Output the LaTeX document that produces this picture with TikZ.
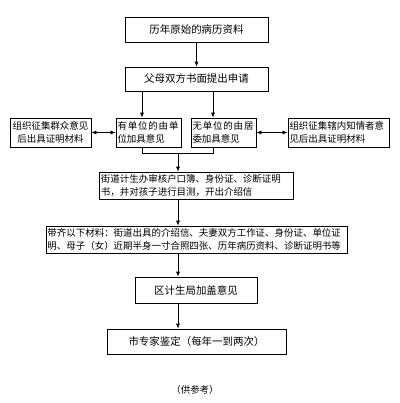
\documentclass[tikz,border=0pt]{standalone}
\usepackage{fontspec}
\setmainfont{Noto Sans CJK SC}
\usetikzlibrary{arrows.meta}

\begin{document}
\begin{tikzpicture}[x=1bp, y=-1bp,
  box/.style={draw, rectangle, line width=0.7pt, inner sep=1.5bp, font=\fontsize{10.5}{12.5}\selectfont},
  smallbox/.style={box, font=\fontsize{9.5}{12.5}\selectfont},
  arr/.style={-{Latex[length=5bp,width=4bp]}, line width=0.7pt},
  twoarr/.style={{Latex[length=5bp,width=4bp]}-{Latex[length=5bp,width=4bp]}, line width=0.7pt}]
\useasboundingbox (0,0) rectangle (400,403);
% Main column
\node[box, minimum width=143bp, minimum height=25bp] (records) at (196.5,29.5) {历年原始的病历资料};
\node[box, minimum width=143bp, minimum height=24bp] (apply) at (196.5,79) {父母双方书面提出申请};
% Opinion row
\node[smallbox, minimum width=81bp, minimum height=29bp, text width=78bp, align=center] (masses) at (50.5,132.5) {组织征集群众意见\\后出具证明材料};
\node[smallbox, minimum width=65bp, minimum height=29bp, text width=62bp, align=left] (work) at (148.5,132.5) {\makebox[61bp][l]{有\hfill 单\hfill 位\hfill 的\hfill 由\hfill 单}\\位加具意见};
\node[smallbox, minimum width=65bp, minimum height=29bp, text width=62bp, align=left] (nowork) at (223.5,132.5) {\makebox[61bp][l]{无\hfill 单\hfill 位\hfill 的\hfill 由\hfill 居}\\委加具意见};
\node[smallbox, minimum width=101bp, minimum height=29bp, text width=98bp, align=left] (insiders) at (338.5,132.5) {组织征集辖内知情者意\\见后出具证明材料};
% Lower column
\node[smallbox, minimum width=194bp, minimum height=27bp, text width=190bp, align=left] (street) at (196,185.5) {街道计生办审核户口簿、身份证、诊断证明\\书，并对孩子进行目测，开出介绍信};
\node[smallbox, minimum width=301bp, minimum height=27bp, text width=298bp, align=left] (materials) at (196.5,239.5) {带齐以下材料：街道出具的介绍信、夫妻双方工作证、身份证、单位证\\明、母子（女）近期半身一寸合照四张、历年病历资料、诊断证明书等};
\node[box, minimum width=122bp, minimum height=26bp] (district) at (196,290) {区计生局加盖意见};
\node[box, minimum width=179bp, minimum height=25bp] (experts) at (196.5,341.5) {市专家鉴定（每年一到两次）};
\node[font=\fontsize{9.5}{11}\selectfont] (note) at (195,390) {（供参考）};

% Connector columns
\coordinate (colL) at (142,0);
\coordinate (colR) at (213,0);
\coordinate (merge) at (178,153);

% Arrows
\draw[arr] (records) -- (apply);
\draw[arr] (colL |- apply.south) -- (colL |- work.north);
\draw[arr] (colR |- apply.south) -- (colR |- nowork.north);
\draw[twoarr] (masses) -- (work);
\draw[twoarr] (nowork) -- (insiders);
\draw[line width=0.7pt] (colL |- work.south) -- (colL |- merge) -- (colR |- merge) -- (colR |- nowork.south);
\draw[arr] (merge) -- (merge |- street.north);
\draw[arr] (merge |- street.south) -- (merge |- materials.north);
\draw[arr] (merge |- materials.south) -- (merge |- district.north);
\draw[arr] (merge |- district.south) -- (merge |- experts.north);
\end{tikzpicture}
\end{document}
